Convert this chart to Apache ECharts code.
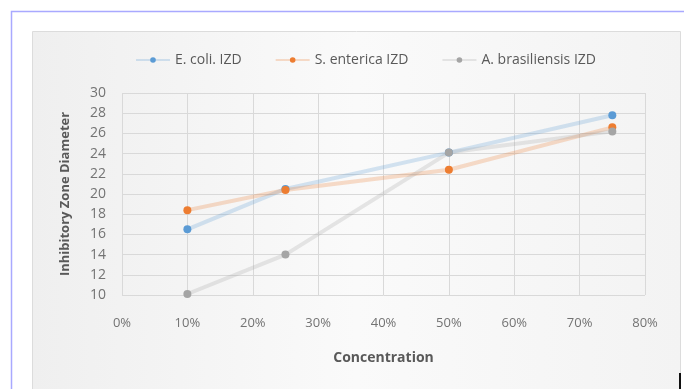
<!DOCTYPE html>
<html>
<head>
<meta charset="utf-8">
<script src="https://cdn.jsdelivr.net/npm/echarts@6/dist/echarts.min.js"></script>
<style>
html, body { margin: 0; padding: 0; background: #fff; }
#main { width: 684px; height: 389px; }
</style>
</head>
<body>
<div id="main"></div>
<script>
var concentrations = [10, 25, 50, 75];
var ecoli = [16.5, 20.5, 24.1, 27.8];
var senterica = [18.4, 20.4, 22.4, 26.6];
var abrasiliensis = [10.1, 14.0, 24.1, 26.2];
var seriesNames = ['E. coli. IZD', 'S. enterica IZD', 'A. brasiliensis IZD'];
var seriesColors = ['#5b9bd5', '#ed7d31', '#a5a5a5'];

function pairs(ys) {
    return concentrations.map(function (x, i) { return [x, ys[i]]; });
}

function makeSeries(name, ys, color) {
    return {
        name: name,
        type: 'line',
        data: pairs(ys),
        symbol: 'circle',
        symbolSize: 8,
        itemStyle: { color: color },
        lineStyle: { color: color, width: 4, opacity: 0.25 }
    };
}

var chart = echarts.init(document.getElementById('main'));
var option = {
    animation: false,
    textStyle: { fontFamily: 'Open Sans' },
    graphic: [
        {
            type: 'polyline', silent: true,
            shape: { points: [[11.5, 389], [11.5, 11.5], [684, 11.5]] },
            style: { stroke: '#a9a9ff', lineWidth: 1.5, fill: null }
        },
        {
            type: 'rect', silent: true, z: -10,
            shape: { x: 32.5, y: 31.5, width: 648, height: 370 },
            style: {
                fill: new echarts.graphic.LinearGradient(0, 0, 1, 0, [
                    { offset: 0, color: '#efefef' },
                    { offset: 0.5, color: '#fafafa' },
                    { offset: 1, color: '#f3f3f3' }
                ]),
                stroke: '#dcdcdc', lineWidth: 1
            }
        },
        {
            type: 'rect', silent: true,
            shape: { x: 679, y: 373, width: 2, height: 16 },
            style: { fill: '#111' }
        }
    ],
    legend: {
        top: 48,
        left: 130,
        itemWidth: 34,
        itemHeight: 7,
        itemGap: 33,
        data: seriesNames,
        textStyle: { color: '#595959', fontSize: 14 }
    },
    grid: { left: 122, right: 39, top: 93, bottom: 94 },
    xAxis: {
        type: 'value',
        min: 0, max: 80, interval: 10,
        name: 'Concentration',
        nameLocation: 'middle',
        nameGap: 56,
        nameTextStyle: { color: '#595959', fontSize: 14, fontWeight: 'bold' },
        axisLine: { show: false },
        axisTick: { show: false },
        axisLabel: { color: '#737373', fontSize: 13, margin: 22, formatter: '{value}%' },
        splitLine: { show: true, lineStyle: { color: '#d9d9d9', width: 1 } }
    },
    yAxis: {
        type: 'value',
        min: 10, max: 30, interval: 2,
        name: 'Inhibitory Zone Diameter',
        nameLocation: 'middle',
        nameGap: 50,
        nameTextStyle: { color: '#595959', fontSize: 13, fontWeight: 'bold' },
        axisLine: { show: false },
        axisTick: { show: false },
        axisLabel: { color: '#737373', fontSize: 14, margin: 16 },
        splitLine: { lineStyle: { color: '#d9d9d9', width: 1 } }
    },
    series: [
        makeSeries(seriesNames[0], ecoli, seriesColors[0]),
        makeSeries(seriesNames[1], senterica, seriesColors[1]),
        makeSeries(seriesNames[2], abrasiliensis, seriesColors[2])
    ]
};
chart.setOption(option);
</script>
</body>
</html>
